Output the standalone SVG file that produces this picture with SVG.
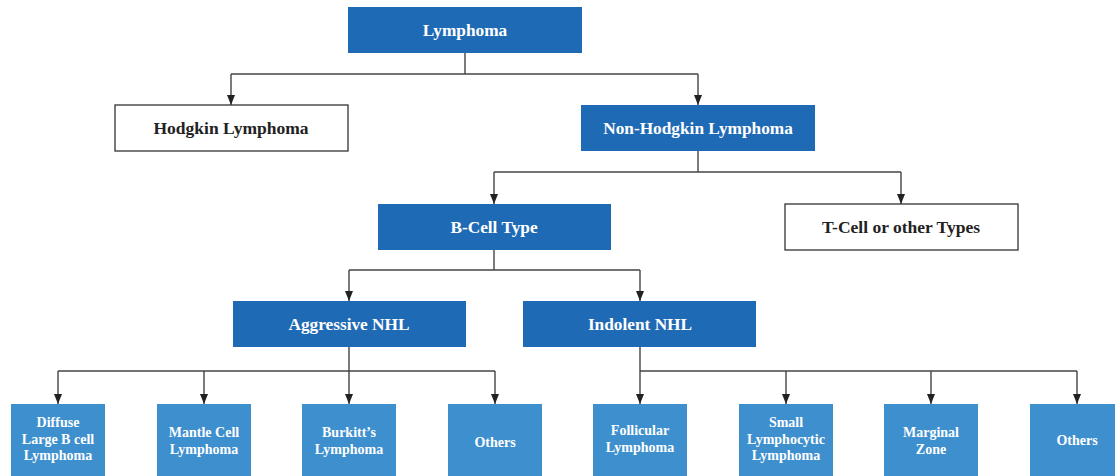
<svg xmlns="http://www.w3.org/2000/svg" width="1115" height="476" viewBox="0 0 1115 476">
<style>
.dk{fill:#1f6ab4}
.lt{fill:#3e8fce}
.wh{fill:#fff;stroke:#333;stroke-width:1.3}
.t{font-family:"Liberation Serif","Times New Roman",serif;font-weight:bold;text-anchor:middle}
.tw{fill:#fff;font-size:17.3px}
.tb{fill:#222;font-size:17.5px}
.ts{fill:#fff;font-size:14px}
.c{fill:none;stroke:#444;stroke-width:1.4}
</style>
<defs>
<marker id="ah" markerWidth="10" markerHeight="8" refX="10" refY="4" orient="auto" markerUnits="userSpaceOnUse">
<path d="M0,0 L10,4 L0,8 Z" fill="#222"/>
</marker>
</defs>
<g id="connectors">
<path class="c" d="M465,53 V74"/>
<path class="c" d="M231,74 H698"/>
<path class="c" d="M231,74 V105" marker-end="url(#ah)"/>
<path class="c" d="M698,74 V105" marker-end="url(#ah)"/>
<path class="c" d="M698,151 V172"/>
<path class="c" d="M494,172 H901"/>
<path class="c" d="M494,172 V204" marker-end="url(#ah)"/>
<path class="c" d="M901,172 V204" marker-end="url(#ah)"/>
<path class="c" d="M494,250 V270"/>
<path class="c" d="M349,270 H640"/>
<path class="c" d="M349,270 V301" marker-end="url(#ah)"/>
<path class="c" d="M640,270 V301" marker-end="url(#ah)"/>
<path class="c" d="M349,347 V371"/>
<path class="c" d="M58,371 H495"/>
<path class="c" d="M58,371 V404" marker-end="url(#ah)"/>
<path class="c" d="M204,371 V404" marker-end="url(#ah)"/>
<path class="c" d="M349,371 V404" marker-end="url(#ah)"/>
<path class="c" d="M495,371 V404" marker-end="url(#ah)"/>
<path class="c" d="M640,347 V404" marker-end="url(#ah)"/>
<path class="c" d="M640,371 H1077"/>
<path class="c" d="M786,371 V404" marker-end="url(#ah)"/>
<path class="c" d="M931,371 V404" marker-end="url(#ah)"/>
<path class="c" d="M1077,371 V404" marker-end="url(#ah)"/>
</g>
<g id="lymphoma"><rect class="dk" x="348" y="7" width="234" height="46"/><text class="t tw" x="465" y="36">Lymphoma</text></g>
<g id="hodgkin"><rect class="wh" x="115" y="105" width="233" height="46"/><text class="t tb" x="231" y="134">Hodgkin Lymphoma</text></g>
<g id="nonhodgkin"><rect class="dk" x="581" y="105" width="234" height="46"/><text class="t tw" x="698" y="134">Non-Hodgkin Lymphoma</text></g>
<g id="bcell"><rect class="dk" x="378" y="204" width="233" height="46"/><text class="t tw" x="494" y="233">B-Cell Type</text></g>
<g id="tcell"><rect class="wh" x="785" y="204" width="233" height="46"/><text class="t tb" x="901" y="233">T-Cell or other Types</text></g>
<g id="aggressive"><rect class="dk" x="233" y="301" width="233" height="46"/><text class="t tw" x="349" y="330">Aggressive NHL</text></g>
<g id="indolent"><rect class="dk" x="523" y="301" width="233" height="46"/><text class="t tw" x="640" y="330">Indolent NHL</text></g>
<g id="diffuse"><rect class="lt" x="11" y="404" width="94" height="76"/><text class="t ts" x="58" y="427">Diffuse<tspan x="58" dy="16.5">Large B cell</tspan><tspan x="58" dy="16.5">Lymphoma</tspan></text></g>
<g id="mantle"><rect class="lt" x="157" y="404" width="94" height="76"/><text class="t ts" x="204" y="437">Mantle Cell<tspan x="204" dy="16.5">Lymphoma</tspan></text></g>
<g id="burkitt"><rect class="lt" x="302" y="404" width="94" height="76"/><text class="t ts" x="349" y="437">Burkitt’s<tspan x="349" dy="16.5">Lymphoma</tspan></text></g>
<g id="others1"><rect class="lt" x="448" y="404" width="94" height="76"/><text class="t ts" x="495" y="447">Others</text></g>
<g id="follicular"><rect class="lt" x="593" y="404" width="94" height="76"/><text class="t ts" x="640" y="435">Follicular<tspan x="640" dy="16.5">Lymphoma</tspan></text></g>
<g id="small"><rect class="lt" x="739" y="404" width="94" height="76"/><text class="t ts" x="786" y="427">Small<tspan x="786" dy="16.5">Lymphocytic</tspan><tspan x="786" dy="16.5">Lymphoma</tspan></text></g>
<g id="marginal"><rect class="lt" x="884" y="404" width="94" height="76"/><text class="t ts" x="931" y="437">Marginal<tspan x="931" dy="16.5">Zone</tspan></text></g>
<g id="others2"><rect class="lt" x="1030" y="404" width="94" height="76"/><text class="t ts" x="1077" y="445">Others</text></g>
</svg>
